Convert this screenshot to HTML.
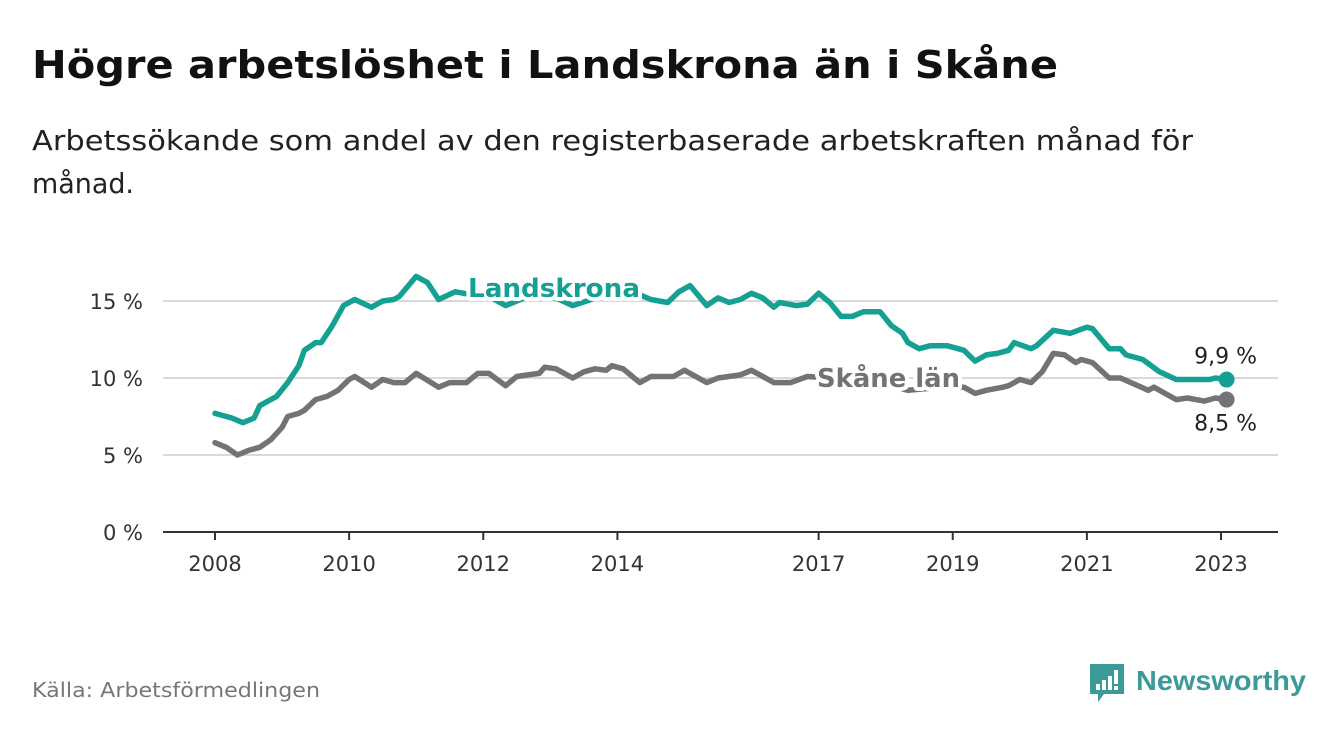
<!DOCTYPE html>
<html><head><meta charset="utf-8"><style>
html,body{margin:0;padding:0;background:#fff;}
svg{display:block;font-family:"DejaVu Sans","Liberation Sans",sans-serif;}
</style></head><body>
<svg id="chart" width="1340" height="734" viewBox="0 0 1340 734">
<text x="32" y="78" font-size="38" font-weight="bold" fill="#111" textLength="1026" lengthAdjust="spacingAndGlyphs">Högre arbetslöshet i Landskrona än i Skåne</text>
<text x="32" y="150" font-size="28" fill="#222" textLength="1161" lengthAdjust="spacingAndGlyphs">Arbetssökande som andel av den registerbaserade arbetskraften månad för</text>
<text x="32" y="193" font-size="28" fill="#222" textLength="102" lengthAdjust="spacingAndGlyphs">månad.</text>
<g id="grid"></g>
<g id="yticks"></g>
<g id="xticks"></g>
<g id="lines"></g>
<text x="32" y="697" font-size="20" fill="#777" textLength="288" lengthAdjust="spacingAndGlyphs">Källa: Arbetsförmedlingen</text>
<g>
<path d="M1090 664 h34 v30 h-20 l-6 8 v-8 h-8 z" fill="#3c9a98"/>
<rect x="1096" y="684" width="4" height="6" fill="#fff"/><rect x="1102" y="680" width="4" height="10" fill="#fff"/><rect x="1108" y="676" width="4" height="14" fill="#fff"/><rect x="1114" y="670" width="4" height="14" fill="#fff"/><rect x="1114" y="686" width="4" height="4" fill="#fff"/>
<text x="1136" y="690" font-size="28" font-weight="bold" fill="#3c9a98" textLength="170" lengthAdjust="spacingAndGlyphs" font-family="Liberation Sans, sans-serif">Newsworthy</text>
</g>
</svg>
<script>
const yTicks=[0,5,10,15];
const yTickLabels=["0 %","5 %","10 %","15 %"];
const xTickYears=[2008,2010,2012,2014,2017,2019,2021,2023];
const landMonths=[0,3,5,7,8,11,13,15,16,18,19,21,23,25,28,30,32,33,36,38,40,43,46,49,52,56,61,64,69,73,76,78,81,83,85,88,90,92,94,96,98,100,101,104,106,108,110,112,114,116,119,121,123,124,126,128,131,134,136,138,140,142,143,146,147,150,153,156,157,160,162,163,166,169,172,175,178,179,181];
const landValues=[7.7,7.4,7.1,7.4,8.2,8.8,9.7,10.8,11.8,12.3,12.3,13.4,14.7,15.1,14.6,15.0,15.1,15.3,16.6,16.2,15.1,15.6,15.4,15.3,14.7,15.3,15.2,14.7,15.3,15.4,15.4,15.1,14.9,15.6,16.0,14.7,15.2,14.9,15.1,15.5,15.2,14.6,14.9,14.7,14.8,15.5,14.9,14.0,14.0,14.3,14.3,13.4,12.9,12.3,11.9,12.1,12.1,11.8,11.1,11.5,11.6,11.8,12.3,11.9,12.1,13.1,12.9,13.3,13.2,11.9,11.9,11.5,11.2,10.4,9.9,9.9,9.9,10.0,9.9];
const skaneMonths=[0,2,4,6,8,10,12,13,15,16,18,20,22,24,25,28,30,32,34,36,40,42,45,47,49,52,54,56,58,59,61,64,66,68,70,71,73,76,78,82,84,88,90,94,96,100,103,106,110,115,121,124,130,134,136,138,141,142,144,146,148,150,152,154,155,157,160,162,167,168,172,174,177,179,181];
const skaneValues=[5.8,5.5,5.0,5.3,5.5,6.0,6.8,7.5,7.7,7.9,8.6,8.8,9.2,9.9,10.1,9.4,9.9,9.7,9.7,10.3,9.4,9.7,9.7,10.3,10.3,9.5,10.1,10.2,10.3,10.7,10.6,10.0,10.4,10.6,10.5,10.8,10.6,9.7,10.1,10.1,10.5,9.7,10.0,10.2,10.5,9.7,9.7,10.1,10.0,9.8,9.5,9.2,9.4,9.4,9.0,9.2,9.4,9.5,9.9,9.7,10.4,11.6,11.5,11.0,11.2,11.0,10.0,10.0,9.2,9.4,8.6,8.7,8.5,8.7,8.6];
const endLabels=["9,9 %","8,5 %"];

const NS="http://www.w3.org/2000/svg";
const X0=163,X1=1278;
function xs(m){return 215+m*(1221-215)/180;}
function ys(v){return 532-v*15.4;}
function mk(tag,attrs,parent,txt){const e=document.createElementNS(NS,tag);for(const k in attrs)e.setAttribute(k,attrs[k]);if(txt!==undefined)e.textContent=txt;parent.appendChild(e);return e;}
const grid=document.getElementById('grid'),yt=document.getElementById('yticks'),xt=document.getElementById('xticks'),lines=document.getElementById('lines');
yTicks.forEach((v,i)=>{
  if(v>0){const g=mk('line',{x1:X0,x2:X1,y1:ys(v),y2:ys(v),stroke:'#d9d9d9','stroke-width':2},grid);
  
  }
  const t=mk('text',{x:143,y:ys(v)+8,'font-size':21,fill:'#333','text-anchor':'end'},yt,yTickLabels[i]);
  
  
});
const ax=mk('line',{x1:X0,x2:X1,y1:532,y2:532,stroke:'#333','stroke-width':2},xt);


xTickYears.forEach(y=>{
  const x=xs((y-2008)*12);
  const l=mk('line',{x1:x,x2:x,y1:532,y2:540,stroke:'#333','stroke-width':2},xt);
  
  
  const t=mk('text',{x:x,y:571,'font-size':21,fill:'#333','text-anchor':'middle'},xt,String(y));
  
  
});
function drawLine(ms,vs,color,name){
  const d=ms.map((m,i)=>(i?'L':'M')+xs(m).toFixed(1)+' '+ys(vs[i]).toFixed(1)).join(' ');
  const p=mk('path',{d:d,fill:'none',stroke:color,'stroke-width':5.5,'stroke-linejoin':'round','stroke-linecap':'round'},lines);
  
  
  const n=ms.length-1;
  const c=mk('circle',{cx:xs(ms[n]),cy:ys(vs[n]),r:8,fill:color},lines);
  
  
}
drawLine(skaneMonths,skaneValues,'#737277','skane');
drawLine(landMonths,landValues,'#14a093','landskrona');
function label(x,y,txt,color,name,w){
  const h=mk('text',{x:x,y:y,'font-size':26,'font-weight':'bold',fill:'#fff',stroke:'#fff','stroke-width':8,'stroke-linejoin':'round',textLength:w,lengthAdjust:'spacingAndGlyphs'},lines,txt);
  
  
  const t=mk('text',{x:x,y:y,'font-size':26,'font-weight':'bold',fill:color,textLength:w,lengthAdjust:'spacingAndGlyphs'},lines,txt);
  
  
}
label(468,297,'Landskrona','#14a093','landskrona-label',172);
label(817,387,'Skåne län','#737277','skane-label',143);
const nL=landMonths.length-1,nS=skaneMonths.length-1;
const e1=mk('text',{x:xs(landMonths[nL])-1,y:ys(landValues[nL])-16,'font-size':22,fill:'#222','text-anchor':'middle'},lines,endLabels[0]);


const e2=mk('text',{x:xs(skaneMonths[nS])-1,y:ys(skaneValues[nS])+31,'font-size':22,fill:'#222','text-anchor':'middle'},lines,endLabels[1]);


</script>
</body></html>
